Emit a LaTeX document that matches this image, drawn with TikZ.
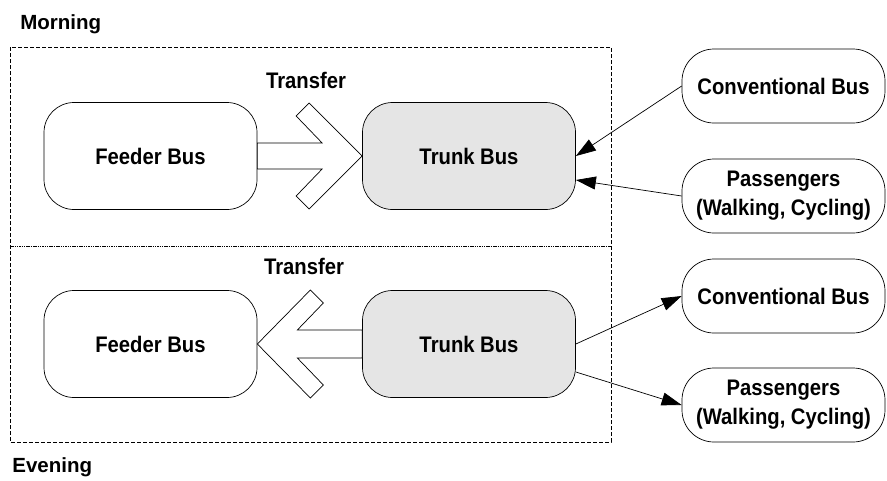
\documentclass[tikz,border=0pt]{standalone}
\usepackage{fontspec}
\setmainfont{Liberation Sans}
\newfontfamily\nodefont[FakeStretch=0.9]{Liberation Sans}
\usetikzlibrary{arrows.meta,calc}
\begin{document}
\begin{tikzpicture}[x=1pt,y=-1pt,
  every path/.style={line width=0.7pt},
  busbox/.style={draw, rounded corners=30pt, minimum width=213pt, minimum height=107pt,
    font=\nodefont\bfseries\fontsize{22.5}{29}\selectfont, align=center, inner sep=0pt},
  trunkbox/.style={busbox, fill=gray!20},
  sidebox/.style={draw, fill=white, rounded corners=32pt, minimum width=203pt, minimum height=74pt,
    font=\nodefont\bfseries\fontsize{22.5}{29}\selectfont, align=center, inner sep=0pt},
  translabel/.style={font=\nodefont\bfseries\fontsize{22.5}{27}\selectfont, inner sep=0pt},
  periodlabel/.style={font=\bfseries\fontsize{20.5}{24}\selectfont, anchor=west, inner sep=0pt},
  bigarrow/.style={draw, fill=white, line join=miter},
  flow/.style={-{Triangle[length=20pt,width=13pt]}},
  frame/.style={draw, dash pattern=on 4pt off 2pt, line width=0.6pt},
  divider/.style={draw, dash pattern=on 1.5pt off 0.8pt, line width=0.6pt}
]
\useasboundingbox (0,0) rectangle (887,480);

% frame
\path[frame] (10,47) rectangle (611,442);
\path[divider] (10,246) -- (611,246);

% period labels
\node[periodlabel] (morning) at (20,24) {Morning};
\node[periodlabel] (evening) at (12,467) {Evening};

% morning
\node[busbox] (fm) at (150.5,156) {Feeder Bus};
\node[trunkbox] (tm) at (469,156) {Trunk Bus};
\node[translabel] (trm) at (306,80) {Transfer};
\node[sidebox] (cbm) at (783.5,86) {Conventional Bus};
\node[sidebox] (pm) at (783.5,196) {Passengers\\(Walking, Cycling)};

% evening
\node[busbox] (fe) at (150.5,344) {Feeder Bus};
\node[trunkbox] (te) at (469,344) {Trunk Bus};
\node[translabel] (tre) at (304,266) {Transfer};
\node[sidebox] (cbe) at (783.5,296) {Conventional Bus};
\node[sidebox] (pe) at (783.5,405) {Passengers\\(Walking, Cycling)};

% transfer arrows
\path[bigarrow] ($(fm.east)+(0,-13)$) -- ($(tm.west)+(-40,-13)$) -- ($(tm.west)+(-66,-40)$)
  -- ($(tm.west)+(-53,-53)$) -- (tm.west) -- ($(tm.west)+(-53,53)$) -- ($(tm.west)+(-66,40)$)
  -- ($(tm.west)+(-40,13)$) -- ($(fm.east)+(0,13)$) -- cycle;
\path[bigarrow] ($(te.west)+(0,-14)$) -- ($(fe.east)+(40,-14)$) -- ($(fe.east)+(66,-41)$)
  -- ($(fe.east)+(53,-54)$) -- (fe.east) -- ($(fe.east)+(53,54)$) -- ($(fe.east)+(66,41)$)
  -- ($(fe.east)+(40,14)$) -- ($(te.west)+(0,14)$) -- cycle;

% flows
\draw[flow] (cbm.west) -- (tm.east);
\draw[flow] (pm.west) -- ([yshift=-24pt]tm.east);
\draw[flow] (te.east) -- (cbe.west);
\draw[flow] ([yshift=-28pt]te.east) -- (pe.west);
\end{tikzpicture}
\end{document}
